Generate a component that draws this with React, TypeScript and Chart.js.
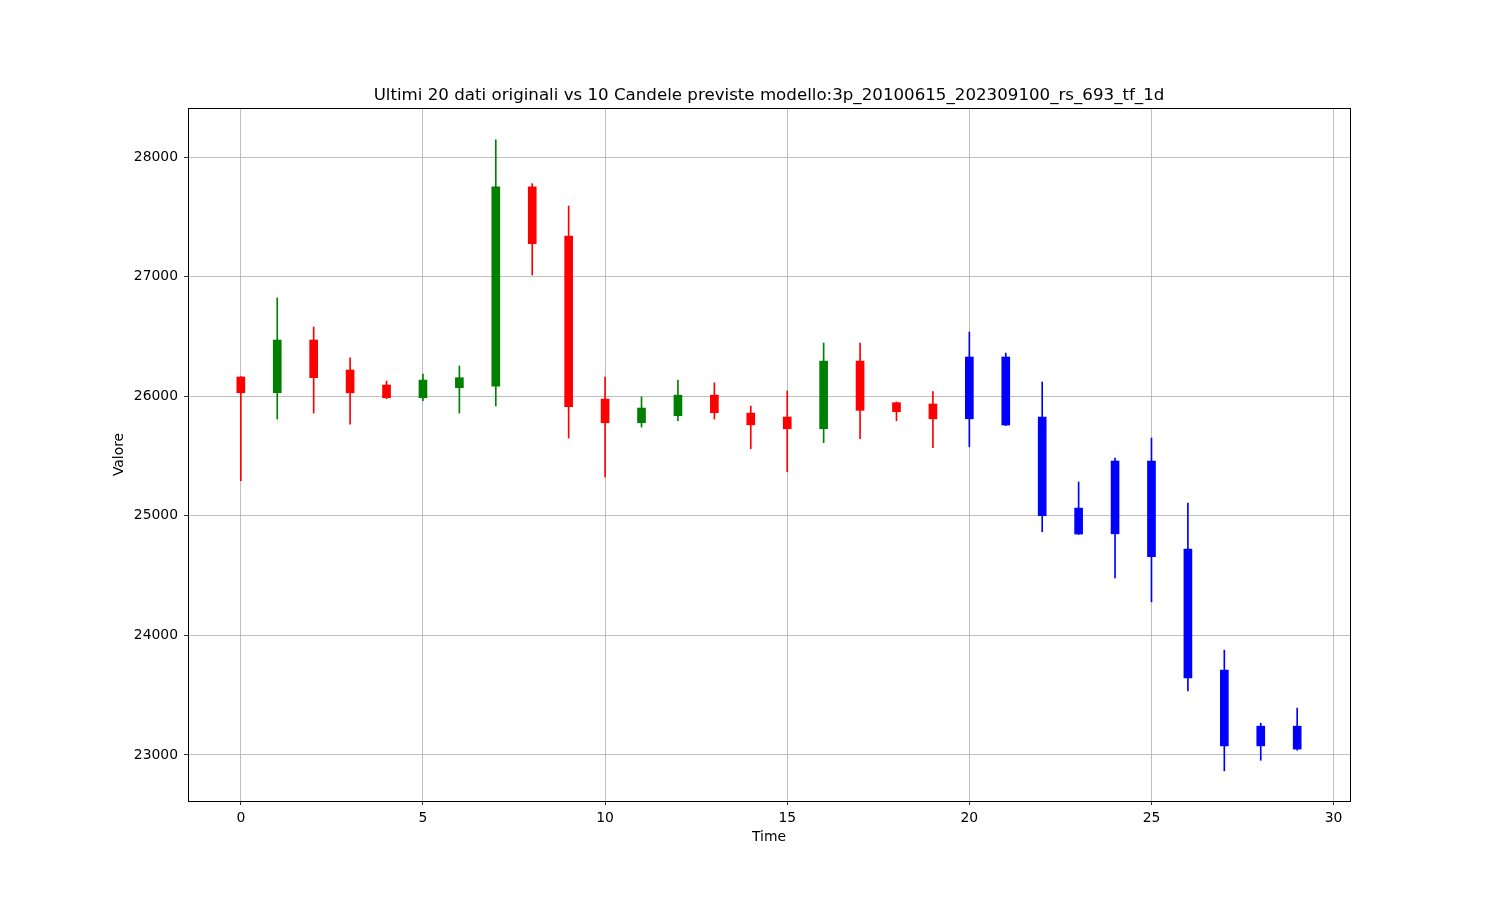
import { useEffect, useRef } from "react";
import { Chart, registerables } from "chart.js";

Chart.register(...registerables);

const TITLE =
  "Ultimi 20 dati originali vs 10 Candele previste modello:3p_20100615_202309100_rs_693_tf_1d";
const X_LABEL = "Time";
const Y_LABEL = "Valore";
const N_ORIGINAL = 20;

const times = [
  0, 1, 2, 3, 4, 5, 6, 7, 8, 9, 10, 11, 12, 13, 14, 15, 16, 17, 18, 19,
  20, 21, 22, 23, 24, 25, 26, 27, 28, 29,
];
const opens = [
  26162, 26030, 26471, 26220, 26095, 25988, 26072, 26086, 27752, 27341,
  25977, 25779, 25838, 26010, 25860, 25827, 25729, 26295, 25947, 25936,
  26329, 26329, 25827, 25065, 25459, 25459, 24722, 23710, 23241, 23241,
];
const highs = [
  26165, 26823, 26580, 26323, 26128, 26187, 26254, 28145, 27779, 27592,
  26162, 25996, 26136, 26114, 25919, 26045, 26446, 26446, 25953, 26039,
  26538, 26362, 26120, 25283, 25484, 25651, 25107, 23877, 23266, 23392,
];
const lows = [
  25294, 25810, 25860, 25768, 25980, 25963, 25860, 25919, 27015, 25651,
  25327, 25743, 25796, 25810, 25562, 25369, 25612, 25645, 25796, 25570,
  25578, 25755, 24867, 24845, 24482, 24281, 23536, 22867, 22956, 23040,
];
const closes = [
  26030, 26471, 26156, 26030, 25988, 26136, 26156, 27752, 27277, 25913,
  25779, 25902, 26010, 25863, 25762, 25729, 26295, 25883, 25871, 25812,
  25812, 25760, 25001, 24848, 24850, 24658, 23645, 23076, 23076, 23049,
];
const xTicks = [0, 5, 10, 15, 20, 25, 30];
const yTicks = [23000, 24000, 25000, 26000, 27000, 28000];

const UP = "#008000";
const DOWN = "#ff0000";
const PRED = "#0000ff";

const FONT = "'DejaVu Sans', sans-serif";

export default function App() {
  const ref = useRef<HTMLCanvasElement | null>(null);

  useEffect(() => {
    if (!ref.current) return;
    const colors = times.map((_, i) =>
      i >= N_ORIGINAL ? PRED : closes[i] >= opens[i] ? UP : DOWN
    );
    const bodies = times.map((t, i) => ({
      x: t,
      y: [Math.min(opens[i], closes[i]), Math.max(opens[i], closes[i])],
    }));
    const wicks = times.map((t, i) => ({ x: t, y: [lows[i], highs[i]] }));

    const framePlugin = {
      id: "frame",
      afterDraw(chart: any) {
        const { ctx, chartArea } = chart;
        const l = Math.round(chartArea.left) + 0.5;
        const t = Math.round(chartArea.top) + 0.5;
        const r = Math.round(chartArea.right) + 0.5;
        const b = Math.round(chartArea.bottom) + 0.5;
        ctx.save();
        ctx.strokeStyle = "#000";
        ctx.lineWidth = 1;
        ctx.strokeRect(l, t, r - l, b - t);
        ctx.restore();
      },
    };

    const chart = new Chart(ref.current, {
      type: "bar",
      data: {
        datasets: [
          {
            label: "body",
            data: bodies as any,
            backgroundColor: colors,
            barThickness: 8,
            grouped: false,
            order: 0,
            borderWidth: 0,
          } as any,
          {
            label: "wick",
            data: wicks as any,
            backgroundColor: colors,
            barThickness: 1,
            grouped: false,
            order: 1,
            borderWidth: 0,
          } as any,
        ],
      },
      options: {
        responsive: false,
        animation: false,
        devicePixelRatio: 1,
        layout: { padding: { left: 0, right: 150, top: 0, bottom: 0 } },
        plugins: {
          legend: { display: false },
          tooltip: { enabled: false },
          title: {
            display: true,
            text: TITLE,
            fullSize: false,
            color: "#000",
            font: { family: FONT, size: 16.67, weight: "normal" as any, lineHeight: 1.2 },
            padding: { top: 85.5, bottom: 2.5 },
          },
        },
        scales: {
          x: {
            type: "linear",
            offset: false,
            min: -1.45,
            max: 30.45,
            afterFit(scale: any) {
              scale.height = 99;
            },
            afterBuildTicks(scale: any) {
              scale.ticks = xTicks.map((v) => ({ value: v }));
            },
            ticks: {
              color: "#000",
              font: { family: FONT, size: 13.9 },
              padding: 5,
              maxRotation: 0,
              callback: (v: any) => String(v),
            },
            grid: {
              offset: false,
              color: "#b0b0b0",
              lineWidth: 0.8,
              tickColor: "#000",
              tickLength: 4,
              tickWidth: 0.8,
            },
            border: { display: true, color: "#000", width: 1 },
            title: {
              display: true,
              text: X_LABEL,
              color: "#000",
              font: { family: FONT, size: 13.9, lineHeight: 1.2 },
              padding: { top: 0, bottom: 54 },
            },
          },
          y: {
            type: "linear",
            min: 22615,
            max: 28412,
            afterFit(scale: any) {
              scale.width = 188;
            },
            afterBuildTicks(scale: any) {
              scale.ticks = yTicks.map((v) => ({ value: v }));
            },
            ticks: {
              color: "#000",
              font: { family: FONT, size: 13.9 },
              padding: 6,
              callback: (v: any) => String(v),
            },
            grid: {
              color: "#b0b0b0",
              lineWidth: 0.8,
              tickColor: "#000",
              tickLength: 4,
              tickWidth: 0.8,
            },
            border: { display: true, color: "#000", width: 1 },
            title: {
              display: true,
              text: Y_LABEL,
              color: "#000",
              font: { family: FONT, size: 13.9, lineHeight: 1.2 },
              padding: { top: 111, bottom: 0 },
            },
          },
        },
      },
      plugins: [framePlugin],
    });
    return () => chart.destroy();
  }, []);

  return (
    <div style={{ position: "absolute", left: 0, top: 0, width: 1500, height: 900, background: "#fff" }}>
      <canvas ref={ref} width={1500} height={900} style={{ width: 1500, height: 900, display: "block" }} />
    </div>
  );
}
